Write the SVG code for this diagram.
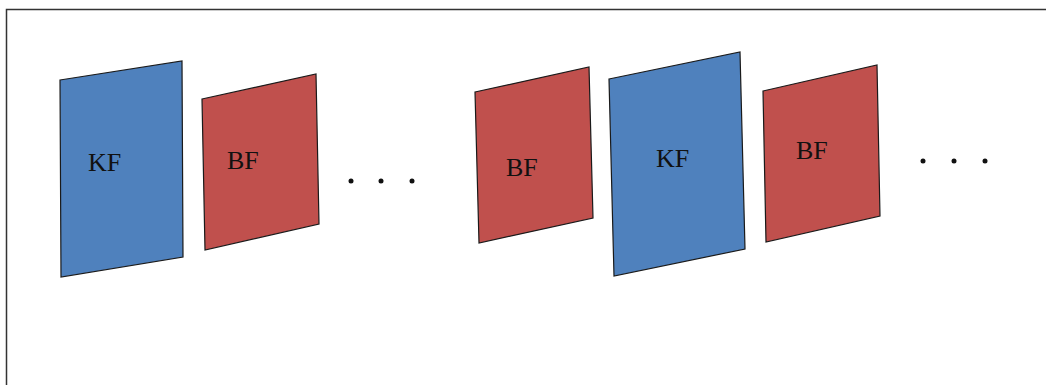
<svg xmlns="http://www.w3.org/2000/svg" width="1046" height="385" viewBox="0 0 1046 385">
<style>
.kf{fill:#4f81bd;stroke:#1a1a1a;stroke-width:1.2;stroke-linejoin:miter}
.bf{fill:#c0504d;stroke:#1a1a1a;stroke-width:1.2;stroke-linejoin:miter}
.lbl{font-family:"Liberation Serif","DejaVu Serif",serif;font-size:26px;fill:#111}
.dot{fill:#111}
</style>
<rect width="1046" height="385" fill="#fff"/>
<path d="M6.5 385 V9.5 H1046" fill="none" stroke="#333" stroke-width="1.5"/>
<g id="kf1"><polygon class="kf" points="60,80 182,61 183,257 61,277"/><text class="lbl" x="88" y="171">KF</text></g>
<g id="bf1"><polygon class="bf" points="202,99 316,74 319,224 205,250"/><text class="lbl" x="227" y="169">BF</text></g>
<g id="dots1"><circle class="dot" cx="351" cy="181" r="2.5"/><circle class="dot" cx="381" cy="181" r="2.5"/><circle class="dot" cx="412" cy="181" r="2.5"/></g>
<g id="bf2"><polygon class="bf" points="475,92 589,67 593,218 479,243"/><text class="lbl" x="506" y="176">BF</text></g>
<g id="kf2"><polygon class="kf" points="609,79 740,52 745,249 614,276"/><text class="lbl" x="656" y="167">KF</text></g>
<g id="bf3"><polygon class="bf" points="763,91 877,65 880,216 766,242"/><text class="lbl" x="796" y="159">BF</text></g>
<g id="dots2"><circle class="dot" cx="923" cy="161" r="2.5"/><circle class="dot" cx="954" cy="161" r="2.5"/><circle class="dot" cx="985" cy="161" r="2.5"/></g>
<g id="connectors"/>
</svg>
